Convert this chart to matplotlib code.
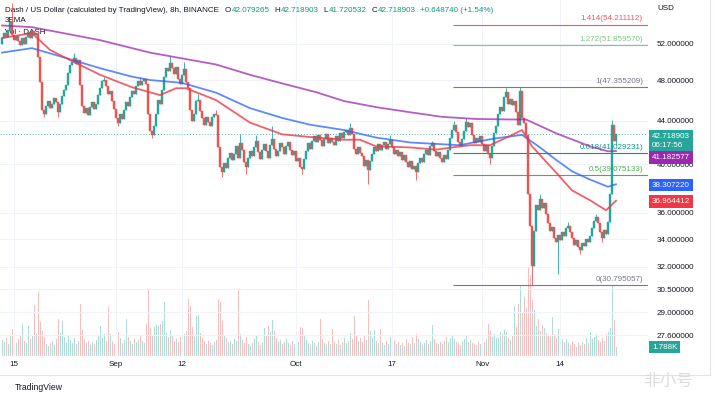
import matplotlib
matplotlib.use("Agg")
import matplotlib.pyplot as plt
import matplotlib.transforms as mtransforms
from matplotlib.lines import Line2D
from matplotlib.ticker import NullFormatter, NullLocator

plt.rcParams["font.family"] = ["Liberation Sans", "DejaVu Sans"]

# ---- data (8h candles from Aug 13 00:00, DASH/USD) ----
first_open = 52.0
closes = [
    52.6, 53.2, 52.8, 53.6, 54.5, 53.0, 52.4, 52.9, 52.3, 51.9,
    52.6, 52.0, 52.8, 53.3, 52.7, 53.4, 53.0, 53.2, 50.5, 47.8,
    45.0, 44.6, 45.4, 45.9, 45.2, 45.6, 46.2, 45.8, 44.8, 45.6,
    46.4, 47.0, 47.5, 48.8, 49.6, 50.0, 50.4, 49.8, 50.2, 47.5,
    45.4, 44.7, 45.2, 44.5, 45.3, 45.8, 45.1, 45.6, 46.5, 47.2,
    47.9, 48.1, 47.4, 46.6, 46.9, 45.9, 45.1, 44.2, 43.8, 44.6,
    44.1, 45.0, 45.8, 45.4, 46.3, 46.9, 46.6, 47.4, 47.9, 47.5,
    47.9, 48.2, 47.6, 44.6, 43.0, 42.6, 43.5, 44.6, 46.0, 45.6,
    47.0, 48.4, 49.3, 49.0, 49.9, 49.3, 48.7, 49.4, 48.2, 47.6,
    48.6, 49.2, 47.8, 47.2, 45.0, 44.0, 44.6, 45.9, 46.0, 44.9,
    44.2, 43.6, 44.3, 43.9, 43.5, 44.3, 44.6, 44.5, 41.5, 39.8,
    39.3, 40.1, 39.7, 40.6, 41.0, 40.4, 40.9, 41.6, 40.6, 41.9,
    41.3, 40.2, 39.8, 40.6, 41.2, 40.7, 41.5, 42.1, 41.1, 40.5,
    41.3, 41.8, 41.2, 40.6, 41.7, 42.3, 41.4, 40.7, 41.2, 41.9,
    41.5, 40.9, 41.6, 42.0, 41.3, 40.8, 41.2, 40.3, 40.6, 39.8,
    39.6, 40.5, 41.2, 41.9, 41.4, 42.1, 42.5, 42.0, 42.6, 42.2,
    41.6, 42.3, 42.7, 41.9, 42.4, 42.0, 41.7, 42.5, 42.1, 42.8,
    42.4, 42.9, 43.1, 42.6, 43.3, 42.7, 41.4, 40.9, 41.5, 41.0,
    40.7, 39.9, 40.4, 39.5, 40.3, 40.9, 41.5, 41.2, 41.8, 41.3,
    41.7, 42.0, 41.4, 41.8, 42.2, 41.5, 40.9, 41.3, 40.7, 41.1,
    40.4, 40.8, 40.2, 39.8, 40.3, 39.6, 39.9, 39.3, 40.1, 40.6,
    40.2, 40.9, 41.3, 40.8, 41.6, 41.9, 41.2, 40.7, 41.1, 40.6,
    40.2, 40.8, 40.5, 41.3, 42.4, 43.1, 43.6, 42.9, 42.0, 41.6,
    42.3, 43.0, 43.9, 43.4, 43.8, 42.6, 41.9, 42.4, 42.0, 42.5,
    41.8, 41.2, 41.7, 40.9, 40.6, 41.6, 42.8, 43.5, 44.6, 45.3,
    44.9, 46.3, 46.8, 45.6, 46.1, 45.5, 45.9, 44.8, 43.6, 46.9,
    44.2, 43.8, 42.6, 37.5, 35.0, 32.1, 34.6, 36.6, 36.2, 37.1,
    36.4, 36.8, 35.9, 35.2, 34.6, 34.9, 34.1, 33.8, 34.3, 33.9,
    34.5, 34.2, 34.8, 35.0, 34.5, 34.1, 33.6, 33.9, 33.4, 33.2,
    33.7, 33.5, 34.0, 33.8, 34.2, 34.8, 35.4, 35.7, 35.2, 34.5,
    34.1, 34.7, 34.4, 35.3, 37.5, 43.6, 42.079265, 42.718903,
]
high_wicks = {5: 56.8, 36: 51.0, 51: 48.4, 69: 48.4, 84: 50.6, 91: 50.0,
              98: 46.6, 107: 45.0, 119: 42.7, 127: 42.6, 135: 43.5, 174: 43.8,
              194: 42.6, 215: 42.1, 226: 44.0, 232: 44.2, 252: 47.2,
              259: 47.355209, 269: 37.5, 283: 35.3, 297: 35.9, 305: 44.05,
              307: 42.718903}
low_wicks = {21: 44.3, 28: 44.3, 58: 43.5, 75: 42.4, 110: 38.9, 122: 39.2,
             150: 39.2, 183: 38.3, 207: 38.7, 244: 40.0, 265: 30.795057,
             278: 31.5, 289: 32.9, 300: 33.8, 307: 41.720532}

# volume in thousands of DASH
volumes = [
    3.2, 2.8, 3.6, 2.5, 4.1, 5.4, 3.0, 2.6, 3.4, 4.2, 6.4, 3.1, 2.7, 6.0, 3.5, 4.0, 10.2, 4.4, 12.8, 6.8,
    5.0, 3.9, 2.4, 2.0, 2.6, 3.1, 2.2, 3.5, 7.4, 4.6, 7.0, 3.8, 2.9, 4.2, 3.3, 2.7, 3.6, 2.5, 3.0, 10.4,
    5.2, 3.4, 2.6, 3.1, 2.3, 2.8, 2.4, 3.2, 4.0, 6.0, 3.7, 4.5, 3.0, 9.8, 4.4, 3.1, 2.5, 2.9, 4.8, 3.6,
    2.7, 3.3, 7.4, 3.9, 3.0, 2.4, 3.5, 2.8, 3.2, 4.1, 3.0, 2.6, 6.4, 13.2, 5.6, 4.3, 5.8, 6.2, 6.0, 6.4,
    7.0, 10.8, 4.6, 3.8, 5.2, 4.0, 3.1, 3.5, 2.9, 3.9, 8.8, 4.4, 5.0, 11.4, 10.0, 5.8, 3.9, 8.0, 8.2, 4.7,
    3.6, 3.0, 2.5, 3.1, 2.7, 2.2, 2.9, 3.3, 11.2, 10.8, 7.0, 4.2, 3.6, 2.9, 3.1, 2.4, 3.5, 3.0, 13.2, 4.5,
    3.2, 2.6, 3.8, 2.4, 2.0, 2.7, 3.4, 4.0, 2.8, 2.3, 2.6, 5.6, 4.2, 6.0, 4.8, 7.2, 5.0, 3.6, 2.9, 3.3,
    2.5, 2.8, 3.4, 2.6, 2.2, 3.0, 2.4, 3.7, 2.9, 5.8, 5.6, 4.0, 3.2, 2.7, 2.3, 3.1, 2.6, 2.0, 2.8, 7.4,
    3.5, 2.6, 2.2, 3.0, 2.4, 5.4, 2.8, 2.5, 3.2, 2.3, 2.9, 3.6, 2.7, 3.1, 4.6, 3.4, 8.0, 4.2, 3.0, 3.6,
    2.8, 4.0, 3.3, 11.2, 5.0, 3.6, 5.2, 3.1, 2.7, 5.4, 2.6, 2.3, 3.0, 2.4, 3.8, 2.9, 3.2, 2.5, 2.8, 2.2,
    2.6, 2.1, 3.4, 2.7, 2.4, 3.9, 2.6, 4.4, 3.5, 2.9, 2.3, 2.6, 3.2, 2.5, 3.0, 6.2, 3.4, 2.7, 2.4, 2.9,
    2.5, 3.1, 3.8, 2.9, 3.6, 4.2, 3.4, 2.8, 2.6, 2.3, 3.0, 3.5, 4.0, 2.9, 3.3, 2.7, 2.4, 2.2, 2.9, 2.5,
    3.1, 2.8, 3.4, 6.4, 5.0, 3.8, 4.4, 3.6, 3.9, 4.8, 4.4, 5.2, 4.8, 3.7, 3.2, 4.0, 10.1, 5.8, 10.4, 14.2,
    8.6, 11.8, 9.6, 17.8, 16.2, 11.2, 9.2, 6.0, 7.4, 5.0, 6.2, 5.6, 4.6, 4.0, 3.8, 7.8, 4.4, 3.6, 5.4, 4.4,
    3.4, 2.8, 3.5, 2.6, 2.2, 3.0, 2.4, 1.9, 2.7, 2.3, 2.9, 2.5, 3.6, 2.6, 4.8, 3.5, 3.9, 4.4, 3.2, 2.8,
    3.7, 3.0, 4.5, 4.8, 5.6, 14.2, 7.2, 1.788,
]

# moving averages sampled at candle indices
ema_slow_idx = [0, 15, 49, 74, 107, 124, 140, 157, 171, 187, 204, 220, 237, 254, 262, 277, 294, 303, 307]
ema_slow = [54.1, 53.9, 52.4, 51.0, 49.7, 48.6, 47.7, 46.8, 45.9, 45.3, 44.8, 44.35, 44.15, 44.1, 44.1,
            42.8, 41.6, 41.15, 41.182577]
ema_mid_idx = [0, 15, 32, 49, 65, 74, 90, 107, 124, 140, 154, 171, 187, 204, 229, 237, 246, 254, 260,
               269, 277, 285, 294, 303, 307]
ema_mid = [51.0, 51.5, 50.4, 49.3, 48.4, 48.05, 47.75, 46.75, 45.2, 44.25, 43.6, 43.1, 42.4, 41.95, 41.7,
           42.0, 42.3, 42.5, 42.65, 41.5, 40.4, 39.4, 38.7, 38.1, 38.30722]
ema_fast_idx = [0, 15, 24, 32, 49, 65, 79, 87, 92, 107, 124, 140, 157, 171, 179, 187, 204, 217, 225, 234,
                244, 254, 260, 265, 277, 285, 294, 302, 307]
ema_fast = [52.65, 53.2, 51.3, 50.4, 48.6, 47.3, 46.5, 47.2, 47.2, 46.0, 43.8, 42.7, 42.4, 42.2, 42.2,
            41.6, 41.5, 41.3, 41.5, 41.7, 41.7, 42.55, 43.1, 41.6, 39.3, 37.8, 37.0, 36.2, 36.964412]

fib_names = ["0", "0.5", "0.618", "1", "1.272", "1.414"]
fib_values = [30.795057, 39.075133, 41.029231, 47.355209, 51.859570, 54.211112]
fib_colors = ["#787b86", "#4caf50", "#089981", "#787b86", "#81c784", "#f7525f"]
fib_start = 225.5

price_ticks = [52, 48, 44, 40, 36, 34, 32, 30.5, 29, 27.6]
date_ticks = [6, 57, 90, 147, 195, 240, 279]
date_labels = ["15", "Sep", "12", "Oct", "17", "Nov", "14"]

legend_segments = [
    ("Dash / US Dollar (calculated by TradingView), 8h, BINANCE", "dark", 6),
    ("O", "dark", 0.5), ("42.079265", "up", 5),
    ("H", "dark", 0.5), ("42.718903", "up", 5),
    ("L", "dark", 0.5), ("41.720532", "up", 5),
    ("C", "dark", 0.5), ("42.718903", "up", 4),
    ("+0.648740 (+1.54%)", "up", 0),
]
countdown = "06:17:56"

# ---- style ----
W, H = 719, 397
PLOT_RIGHT, PLOT_BOTTOM = 648, 356
UP = "#26a69a"
DOWN = "#ef5350"
TEXT = "#131722"
FS = 5.8


def main():
    fig = plt.figure(figsize=(W / 100, H / 100), dpi=100)
    ax = fig.add_axes([0, 1 - PLOT_BOTTOM / H, PLOT_RIGHT / W, PLOT_BOTTOM / H])
    ax_vol = ax.twinx()
    ax.set_zorder(ax_vol.get_zorder() + 1)
    ax.patch.set_visible(False)

    n = len(closes)
    xs = list(range(n))
    opens = [first_open] + closes[:-1]
    highs = [high_wicks.get(i, max(o, c)) for i, (o, c) in enumerate(zip(opens, closes))]
    lows = [low_wicks.get(i, min(o, c)) for i, (o, c) in enumerate(zip(opens, closes))]
    colors = [UP if c >= o else DOWN for o, c in zip(opens, closes)]

    # volume
    ax_vol.bar(xs, volumes, width=0.5, color=colors, alpha=0.38, linewidth=0)
    ax_vol.set_ylim(0, max(volumes) * 4.0)
    ax_vol.yaxis.set_visible(False)
    for s in ax_vol.spines.values():
        s.set_visible(False)

    # candles
    ax.set_yscale("log")
    ax.vlines(xs, lows, highs, colors=colors, linewidth=0.6, zorder=3)
    ax.bar(xs, [abs(c - o) for o, c in zip(opens, closes)],
           bottom=[min(o, c) for o, c in zip(opens, closes)],
           width=0.75, color=colors, edgecolor=colors, linewidth=0.3, zorder=4)

    ax.plot(ema_slow_idx, ema_slow, color="#9c27b0", lw=1.3, alpha=0.75, zorder=5)
    ax.plot(ema_mid_idx, ema_mid, color="#2962ff", lw=1.3, alpha=0.75, zorder=5)
    ax.plot(ema_fast_idx, ema_fast, color="#f23645", lw=1.3, alpha=0.8, zorder=5)

    xmin, xmax = -1, PLOT_RIGHT / 2 - 1
    ax.set_xlim(xmin, xmax)
    ax.set_ylim(26.37, 57.18)

    # last price dotted line
    ax.axhline(closes[-1], color=UP, lw=0.7, ls=(0, (1, 2)), alpha=0.8, zorder=2)

    # fibonacci retracement
    for name, val, col in zip(fib_names, fib_values, fib_colors):
        ax.hlines(val, fib_start, xmax, colors=col, lw=0.8, zorder=2)
        ax.annotate(f"{name}({val:.6f})", (xmax - 2.5, val), xytext=(0, 1.5),
                    textcoords="offset points", ha="right", va="bottom",
                    fontsize=FS, color=col, zorder=2)

    # axes styling
    for s in ax.spines.values():
        s.set_visible(False)
    ax.grid(True, color="#f0f3fa", lw=0.7)
    ax.set_axisbelow(True)
    ax.set_xticks(date_ticks, date_labels)
    ax.yaxis.tick_right()
    ax.set_yticks(price_ticks, [f"{t:.6f}" for t in price_ticks])
    ax.yaxis.set_minor_locator(NullLocator())
    ax.yaxis.set_minor_formatter(NullFormatter())
    ax.tick_params(axis="x", length=0, pad=3.3, labelsize=FS, labelcolor=TEXT)
    ax.tick_params(axis="y", length=0, pad=6.5, labelsize=FS, labelcolor=TEXT)

    # price-scale labels
    blend = mtransforms.blended_transform_factory(ax.transAxes, ax.transData)
    box_items = [
        (f"{closes[-1]:.6f}\n{countdown}", closes[-1], UP, -7),
        (f"{ema_slow[-1]:.6f}", ema_slow[-1], "#9c27b0", -6.4),
        (f"{ema_mid[-1]:.6f}", ema_mid[-1], "#2962ff", -0.8),
        (f"{ema_fast[-1]:.6f}", ema_fast[-1], "#f23645", -0.8),
    ]
    for label, val, col, dy in box_items:
        tr = mtransforms.offset_copy(blend, fig=fig, x=4, y=dy, units="dots")
        ax.text(1.0, val, label, transform=tr, ha="left", va="center", fontsize=FS,
                color="white", linespacing=1.45,
                bbox=dict(boxstyle="square,pad=0.35", fc=col, ec="none"), zorder=10)
    vblend = mtransforms.blended_transform_factory(ax.transAxes, ax_vol.transData)
    ax.text(1.0, volumes[-1], f"{volumes[-1]:.3f}K",
            transform=mtransforms.offset_copy(vblend, fig=fig, x=4, y=0, units="dots"),
            ha="left", va="center", fontsize=FS, color="white",
            bbox=dict(boxstyle="square,pad=0.35", fc=UP, ec="none"), zorder=10)

    fig.text(657 / W, 1 - 8 / H, "USD", fontsize=FS, color=TEXT, va="center")

    # legend, drawn under the candles like the original
    renderer = fig.canvas.get_renderer()
    x_px = 5
    for text, kind, gap in legend_segments:
        t = ax.text(x_px / PLOT_RIGHT, 1 - 10 / PLOT_BOTTOM, text, transform=ax.transAxes,
                    fontsize=FS, color=TEXT if kind == "dark" else "#089981",
                    va="center", ha="left", zorder=1)
        x_px += t.get_window_extent(renderer).width + gap
    ax.text(5 / PLOT_RIGHT, 1 - 21 / PLOT_BOTTOM, "3EMA", transform=ax.transAxes,
            fontsize=FS, color=TEXT, va="center", zorder=1)
    ax.text(5 / PLOT_RIGHT, 1 - 32 / PLOT_BOTTOM, "Vol · DASH", transform=ax.transAxes,
            fontsize=FS, color=TEXT, va="center", zorder=1)

    # frame + footer
    fig.add_artist(Line2D([0, 710 / W], [1 - 375 / H] * 2, color="#e0e3eb", lw=0.8,
                          transform=fig.transFigure))
    fig.add_artist(Line2D([710 / W] * 2, [1 - 375 / H, 1], color="#e0e3eb", lw=0.8,
                          transform=fig.transFigure))
    fig.text(15 / W, 1 - 388 / H, "TradingView", fontsize=6.2, color=TEXT, va="center")
    fig.text(668 / W, 1 - 381 / H, "非小号", fontsize=12, color="#dcdcdc", va="center",
             ha="center", family=["Noto Sans CJK SC", "DejaVu Sans"])

    fig.savefig("out.png", dpi=100)


if __name__ == "__main__":
    main()
